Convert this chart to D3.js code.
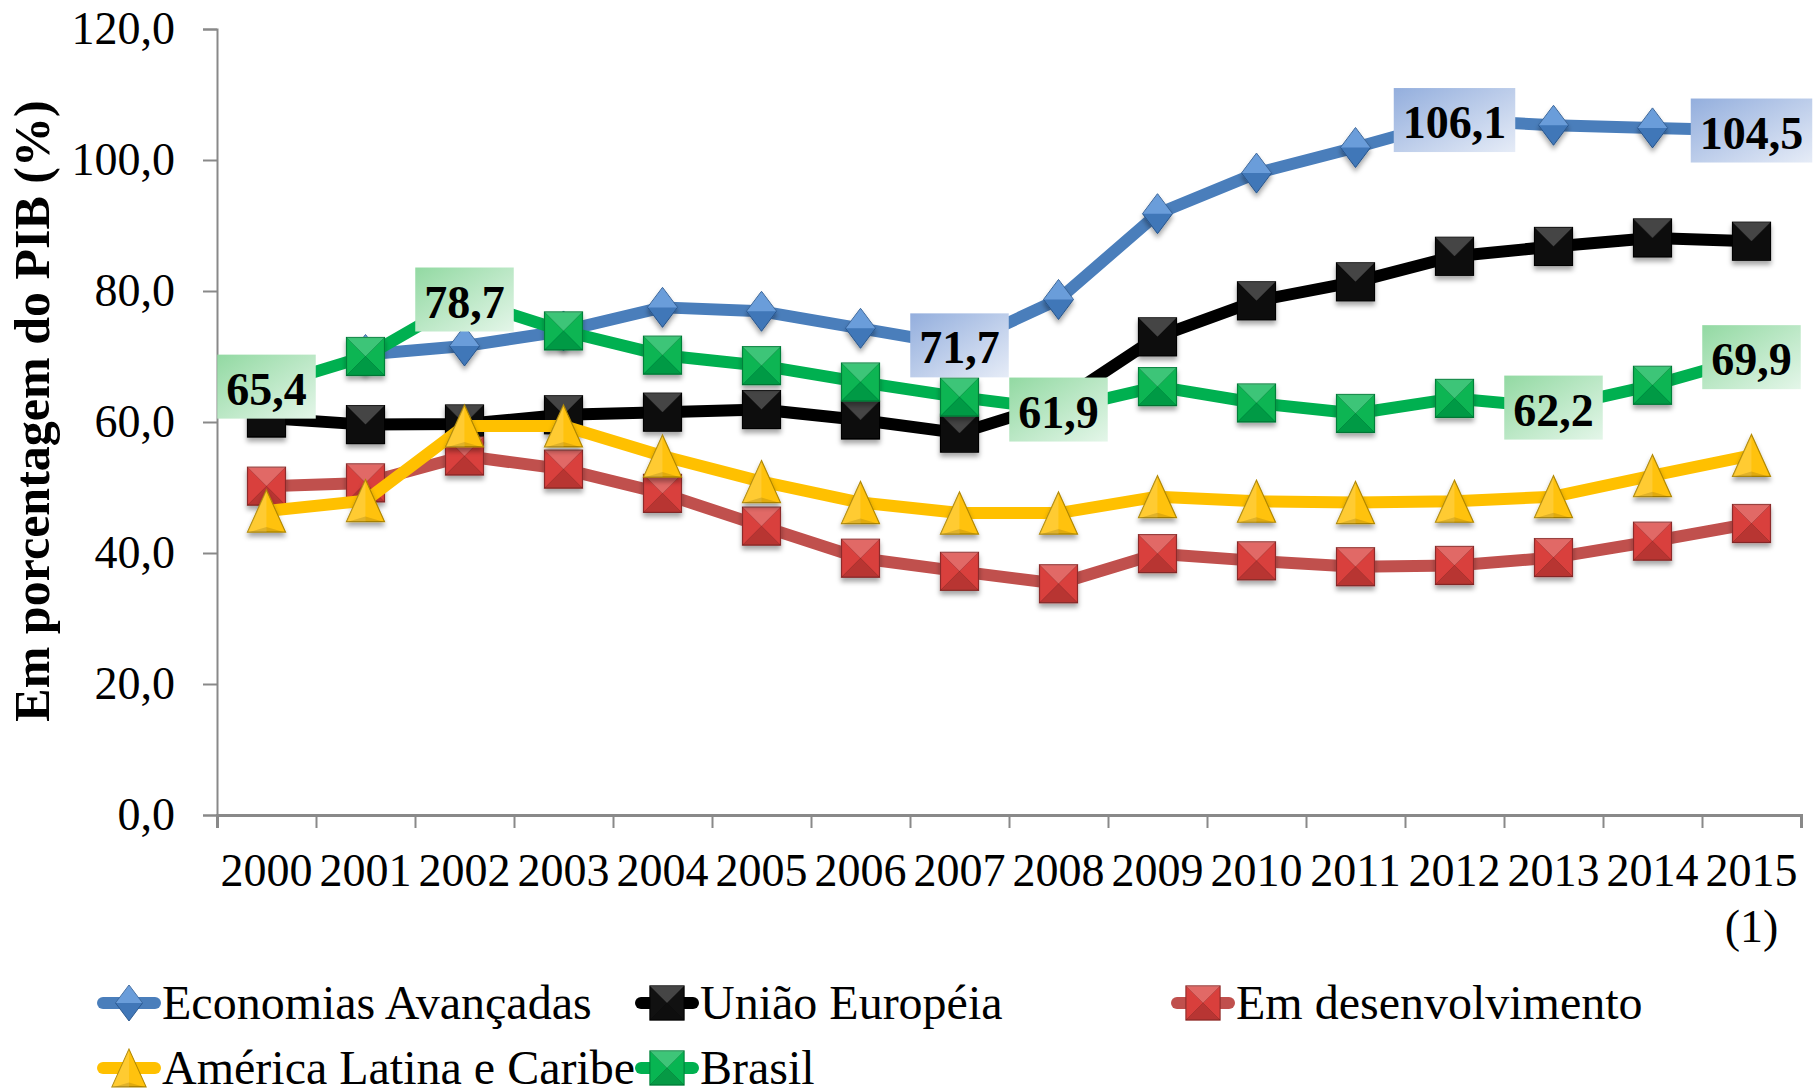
<!DOCTYPE html>
<html>
<head>
<meta charset="utf-8">
<script src="https://cdn.jsdelivr.net/npm/d3@7"></script>
<style>
body { margin: 0; background: #fff; }
text { font-family: "Liberation Serif", "Times New Roman", serif; fill: #000; }
</style>
</head>
<body>
<script>

// chart data
var years = ["2000","2001","2002","2003","2004","2005","2006","2007",
             "2008","2009","2010","2011","2012","2013","2014","2015"];
var yTicks = [0, 20, 40, 60, 80, 100, 120];

var economiasAvancadas = [null, 70.3, 71.6, 73.9, 77.5, 76.9, 74.3, 71.7, 78.7, 91.8, 98.0, 101.9, 106.1, 105.3, 104.9, 104.5];
var uniaoEuropeia      = [60.6, 59.6, 59.7, 61.1, 61.5, 61.9, 60.3, 58.3, 63.0, 73.0, 78.5, 81.4, 85.3, 86.8, 88.1, 87.6];
var emDesenvolvimento  = [50.2, 50.7, 54.8, 52.8, 49.1, 44.1, 39.2, 37.2, 35.3, 39.9, 38.8, 37.9, 38.1, 39.3, 41.8, 44.5];
var americaLatina      = [46.4, 48.0, 59.4, 59.4, 54.8, 50.9, 47.7, 46.1, 46.1, 48.6, 47.9, 47.7, 47.9, 48.6, 51.8, 54.9];
var brasil             = [65.4, 70.0, 78.7, 73.9, 70.2, 68.6, 66.1, 63.8, 61.9, 65.4, 62.9, 61.3, 63.6, 62.2, 65.6, 69.9];

var seriesNames = ["Economias Avançadas", "União Européia", "Em desenvolvimento", "América Latina e Caribe", "Brasil"];
var avancadasLabelIdx = [7, 12, 15];        // points with a value box
var brasilLabelIdx = [0, 2, 8, 13, 15];

// layout
var width = 1820, height = 1091,
    plotLeft = 217, plotRight = 1801, plotTop = 29, plotBottom = 815,
    fontSize = 46, legendFont = 48;

var series = [
  {name: seriesNames[0], values: economiasAvancadas, shape: "diamond", line: "#4A7EBB", fill: "#4A88D2", edge: "#2B5A93", labels: avancadasLabelIdx, box: ["#93AEDD", "#E6ECF7"]},
  {name: seriesNames[1], values: uniaoEuropeia, shape: "square", line: "#000000", fill: "#111111", edge: "#000000", labels: []},
  {name: seriesNames[2], values: emDesenvolvimento, shape: "square", line: "#C0504D", fill: "#D93F3C", edge: "#8E2C2A", labels: []},
  {name: seriesNames[3], values: americaLatina, shape: "triangle", line: "#FFC000", fill: "#FFC20E", edge: "#B08700", labels: []},
  {name: seriesNames[4], values: brasil, shape: "square", line: "#00B050", fill: "#08B552", edge: "#00803A", labels: brasilLabelIdx, box: ["#92D9A2", "#E4F6E9"]}
];

var svg = d3.select("body").append("svg")
            .attr("width", width)
            .attr("height", height);

var defs = svg.append("defs");
var shadow = defs.append("filter").attr("id", "shadow")
                 .attr("x", "-50%").attr("y", "-50%").attr("width", "200%").attr("height", "200%");
shadow.append("feDropShadow").attr("dx", 0).attr("dy", 4).attr("stdDeviation", 2.5)
      .attr("flood-color", "#000").attr("flood-opacity", 0.35);

series.forEach(function (s, i) {
  if (!s.box) return;
  var grad = defs.append("linearGradient").attr("id", "box" + i)
                 .attr("x1", 0).attr("y1", 0).attr("x2", 1).attr("y2", 1);
  grad.append("stop").attr("offset", "0%").attr("stop-color", s.box[0]);
  grad.append("stop").attr("offset", "100%").attr("stop-color", s.box[1]);
});

var x = d3.scaleBand().domain(years).range([plotLeft, plotRight]);
var xEdge = d3.scaleLinear().domain([0, years.length]).range([plotLeft, plotRight]);
var y = d3.scaleLinear().domain([0, 120]).range([plotBottom, plotTop]);
var cx = function (i) { return x(years[i]) + x.bandwidth() / 2; };

// axes
var axisColor = "#898989";

var yAxis = svg.append("g").attr("transform", "translate(" + plotLeft + ",0)")
   .call(d3.axisLeft(y).tickValues(yTicks).tickSize(14).tickPadding(28)
           .tickFormat(function (d) { return d.toFixed(1).replace(".", ","); }));
yAxis.select(".domain").attr("stroke", axisColor).attr("stroke-width", 2);
yAxis.selectAll(".tick line").attr("stroke", axisColor).attr("stroke-width", 2);
yAxis.selectAll(".tick text").style("font-size", fontSize + "px")
     .style("font-family", "'Liberation Serif', serif").attr("fill", "#000");

var xTicks = svg.append("g").attr("transform", "translate(0," + plotBottom + ")")
   .call(d3.axisBottom(xEdge).tickValues(d3.range(0, years.length + 1)).tickSize(13).tickFormat(""));
xTicks.select(".domain").attr("stroke", axisColor).attr("stroke-width", 3);
xTicks.selectAll(".tick line").attr("stroke", axisColor).attr("stroke-width", 2);

var xLabels = svg.append("g").attr("transform", "translate(0," + plotBottom + ")")
   .call(d3.axisBottom(x).tickSize(0).tickPadding(38));
xLabels.select(".domain").remove();
xLabels.selectAll(".tick text").style("font-size", fontSize + "px")
       .style("font-family", "'Liberation Serif', serif").attr("fill", "#000");
// footnote mark under the last year
xLabels.selectAll(".tick text").filter(function (d) { return d == "2015"; })
       .append("tspan").attr("x", 0).attr("dy", "1.22em").text("(1)");

// y axis title
svg.append("text")
   .attr("transform", "translate(49," + 411 + ") rotate(-90)")
   .attr("text-anchor", "middle")
   .style("font-size", "50px")
   .style("font-weight", "bold")
   .text("Em porcentagem do PIB (%)");

// markers
function drawMarker(g, s) {
  if (s.shape == "diamond") {
    var dw = 15, dh = 20;
    g.append("path").attr("d", "M0," + (-dh) + "L" + dw + ",0L0," + dh + "L" + (-dw) + ",0Z")
     .attr("fill", s.fill).attr("stroke", s.edge).attr("stroke-width", 1);
    g.append("path").attr("d", "M0," + (-dh) + "L" + dw + ",0L" + (-dw) + ",0Z")
     .attr("fill", "#fff").attr("opacity", 0.18);
    g.append("path").attr("d", "M0," + dh + "L" + dw + ",0L" + (-dw) + ",0Z")
     .attr("fill", "#000").attr("opacity", 0.12);
  } else if (s.shape == "triangle") {
    var tw = 19, th = 21;
    g.append("path").attr("d", "M0," + (-th) + "L" + tw + "," + th + "L" + (-tw) + "," + th + "Z")
     .attr("fill", s.fill).attr("stroke", s.edge).attr("stroke-width", 1.2);
    g.append("path").attr("d", "M0," + (-th) + "L0," + th + "L" + (-tw) + "," + th + "Z")
     .attr("fill", "#fff").attr("opacity", 0.15);
    g.append("path").attr("d", "M0," + (th - 5) + "L" + (tw - 2) + "," + th + "L" + (-tw + 2) + "," + th + "Z")
     .attr("fill", "#000").attr("opacity", 0.12);
  } else {
    var h = 19;
    g.append("rect").attr("x", -h).attr("y", -h).attr("width", 2 * h).attr("height", 2 * h)
     .attr("fill", s.fill).attr("stroke", s.edge).attr("stroke-width", 1.2);
    g.append("path").attr("d", "M" + (-h) + "," + (-h) + "L" + h + "," + (-h) + "L0,0Z")
     .attr("fill", "#fff").attr("opacity", 0.22);
    g.append("path").attr("d", "M" + (-h) + "," + h + "L" + h + "," + h + "L0,0Z")
     .attr("fill", "#000").attr("opacity", 0.15);
    g.append("path").attr("d", "M" + (-h) + "," + (-h) + "L" + h + "," + h + "M" + h + "," + (-h) + "L" + (-h) + "," + h)
     .attr("stroke", "#000").attr("stroke-opacity", 0.15).attr("stroke-width", 1);
  }
}

var line = d3.line()
             .defined(function (d) { return d != null; })
             .x(function (d, i) { return cx(i); })
             .y(function (d) { return y(d); });

var plot = svg.append("g");

series.forEach(function (s) {
  var g = plot.append("g");
  g.append("path").datum(s.values)
   .attr("d", line)
   .attr("fill", "none")
   .attr("stroke", s.line)
   .attr("stroke-width", 12)
   .attr("stroke-linejoin", "round")
   .attr("stroke-linecap", "round");
  s.values.forEach(function (v, i) {
    if (v == null) return;
    var m = g.append("g").attr("transform", "translate(" + cx(i) + "," + y(v) + ")")
             .attr("filter", "url(#shadow)");
    drawMarker(m, s);
  });
});

// value boxes
series.forEach(function (s, si) {
  s.labels.forEach(function (i) {
    var v = s.values[i];
    var g = svg.append("g").attr("transform", "translate(" + cx(i) + "," + y(v) + ")");
    var t = g.append("text").attr("text-anchor", "middle").attr("y", 18)
             .style("font-size", fontSize + "px").style("font-weight", "bold")
             .text(v.toFixed(1).replace(".", ","));
    var w = t.node().getComputedTextLength() + 18;
    g.insert("rect", "text").attr("x", -w / 2).attr("y", -32).attr("width", w).attr("height", 64)
     .attr("fill", "url(#box" + si + ")");
  });
});

// legend
var legendPos = [[129, 1003], [667, 1003], [1203, 1003], [129, 1068], [667, 1068]];
series.forEach(function (s, i) {
  var g = svg.append("g").attr("transform", "translate(" + legendPos[i][0] + "," + legendPos[i][1] + ")");
  g.append("line").attr("x1", -26).attr("x2", 26)
   .attr("stroke", s.line).attr("stroke-width", 12).attr("stroke-linecap", "round");
  var m = g.append("g").attr("transform", "scale(0.9)");
  drawMarker(m, s);
  g.append("text").attr("x", 33).attr("y", 16)
   .style("font-size", legendFont + "px")
   .text(s.name);
});

</script>
</body>
</html>
